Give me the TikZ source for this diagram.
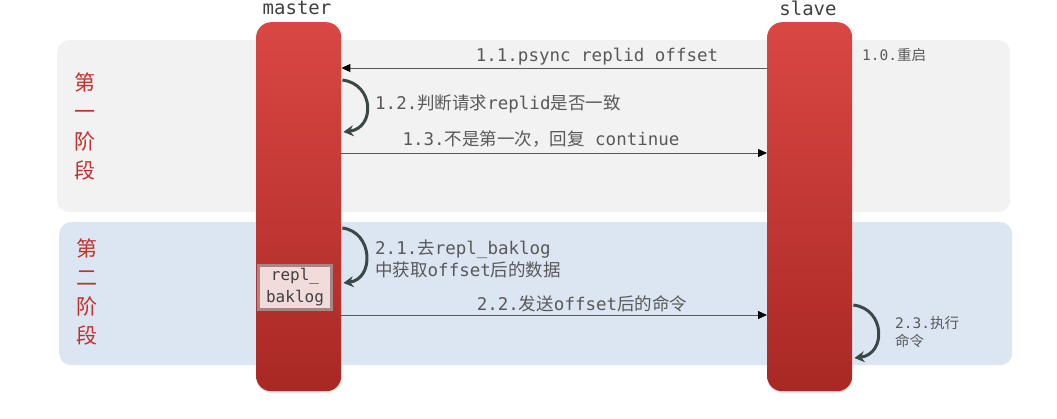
\documentclass[tikz,border=0pt]{standalone}
\usepackage{fontspec}
\setmonofont{DejaVu Sans Mono}
\newfontfamily\cjk{Noto Sans CJK SC}
\usetikzlibrary{arrows.meta,shadows,calc}
\definecolor{bandgray}{HTML}{F2F2F2}
\definecolor{bandblue}{HTML}{DCE6F2}
\definecolor{bartop}{HTML}{DA4744}
\definecolor{barbot}{HTML}{A92824}
\definecolor{stagered}{HTML}{C0302C}
\definecolor{labelgray}{HTML}{595959}
\definecolor{headgray}{HTML}{404040}
\definecolor{loopgray}{HTML}{3B4848}
\definecolor{logfill}{HTML}{F2DCDB}
\definecolor{logedge}{HTML}{A68684}
\newcommand\zh[1]{{\cjk #1}}
\begin{document}
\begin{tikzpicture}[x=1pt,y=-1pt,
  band/.style={rounded corners=12pt, draw=none, minimum width=953pt, inner sep=0pt},
  lifebar/.style={rounded corners=15pt, top color=bartop, bottom color=barbot, draw=none,
     minimum width=85pt, minimum height=369pt, inner sep=0pt,
     drop shadow={shadow xshift=0pt, shadow yshift=-1.5pt, opacity=0.25}},
  head/.style={font=\ttfamily\fontsize{19}{22}\selectfont, text=headgray, inner sep=0pt},
  lbl/.style={font=\ttfamily\fontsize{17.5}{21}\selectfont, text=labelgray, inner sep=0pt},
  small/.style={font=\ttfamily\fontsize{14.5}{18}\selectfont, text=labelgray, inner sep=0pt, align=left},
  stage/.style={font=\cjk\fontsize{21}{29.3}\selectfont, text=stagered, align=center, inner sep=0pt},
  msg/.style={draw=labelgray, line width=0.9pt, -{Triangle[length=9pt,width=8pt,fill=black,color=black]}},
  selfloop/.style={draw=loopgray, line width=3pt, -{Stealth[length=10pt,width=11pt]}},
  logbox/.style={fill=logfill, draw=logedge, line width=2.5pt, minimum width=73pt, minimum height=44pt,
     inner sep=0pt, align=center, font=\ttfamily\fontsize{16}{22}\selectfont, text=headgray}
]
\useasboundingbox (0,0) rectangle (1057,418);
\fill[white] (0,0) rectangle (1057,418);
% bands
\node[band, fill=bandgray, minimum height=172pt, anchor=north west] (B1) at (57,40) {};
\node[band, fill=bandblue, minimum height=143pt, anchor=north west] (B2) at (59,222) {};
% stage labels
\node[stage] (ST1) at (85,126.5) {第\\一\\阶\\段};
\node[stage] (ST2) at (87,292) {第\\二\\阶\\段};
% bars
\node[lifebar, anchor=north west] (M) at (256,22) {};
\node[lifebar, anchor=north west] (S) at (767,22) {};
\node[head] (MH) at (297,7.5) {master};
\node[head] (SH) at (808,8) {slave};
% helper levels
\coordinate (y11) at (0,68);
\coordinate (y13) at (0,153);
\coordinate (y22) at (0,315);
\coordinate (l12a) at (0,80);
\coordinate (l12b) at (0,132);
\coordinate (l21a) at (0,228);
\coordinate (l21b) at (0,283);
\coordinate (l23a) at (0,305);
\coordinate (l23b) at (0,358);
% messages
\draw[msg] (S.west |- y11) -- (M.east |- y11);
\node[lbl] (T11) at (597,57) {1.1.psync replid offset};
\node[small, anchor=west] (T10) at (862,55) {1.0.\zh{重启}};
\draw[selfloop] ($(M.east |- l12a)+(1,0)$) .. controls +(32,4) and +(32,-4) .. ($(M.east |- l12b)+(2,0)$);
\node[lbl, anchor=west] (T12) at (375,104) {1.2.\zh{判断请求}replid\zh{是否一致}};
\draw[msg] (M.east |- y13) -- (S.west |- y13);
\node[lbl] (T13) at (541,139) {1.3.\zh{不是第一次，回复} continue};
\draw[selfloop] ($(M.east |- l21a)+(1,0)$) .. controls +(31,4) and +(31,-4) .. ($(M.east |- l21b)+(2,0)$);
\node[lbl, anchor=west, align=left, font=\ttfamily\fontsize{17.5}{22}\selectfont] (T21) at (375,259) {2.1.\zh{去}repl\_baklog\\\zh{中获取}offset\zh{后的数据}};
\node[logbox] (LOG) at (295,287.5) {repl\_\\baklog};
\draw[msg] (M.east |- y22) -- (S.west |- y22);
\node[lbl] (T22) at (582,304) {2.2.\zh{发送}offset\zh{后的命令}};
\draw[selfloop] ($(S.east |- l23a)+(1,0)$) .. controls +(32,4) and +(32,-4) .. ($(S.east |- l23b)+(2,0)$);
\node[small, anchor=west] (T23) at (895,332) {2.3.\zh{执行}\\\zh{命令}};
\end{tikzpicture}
\end{document}
